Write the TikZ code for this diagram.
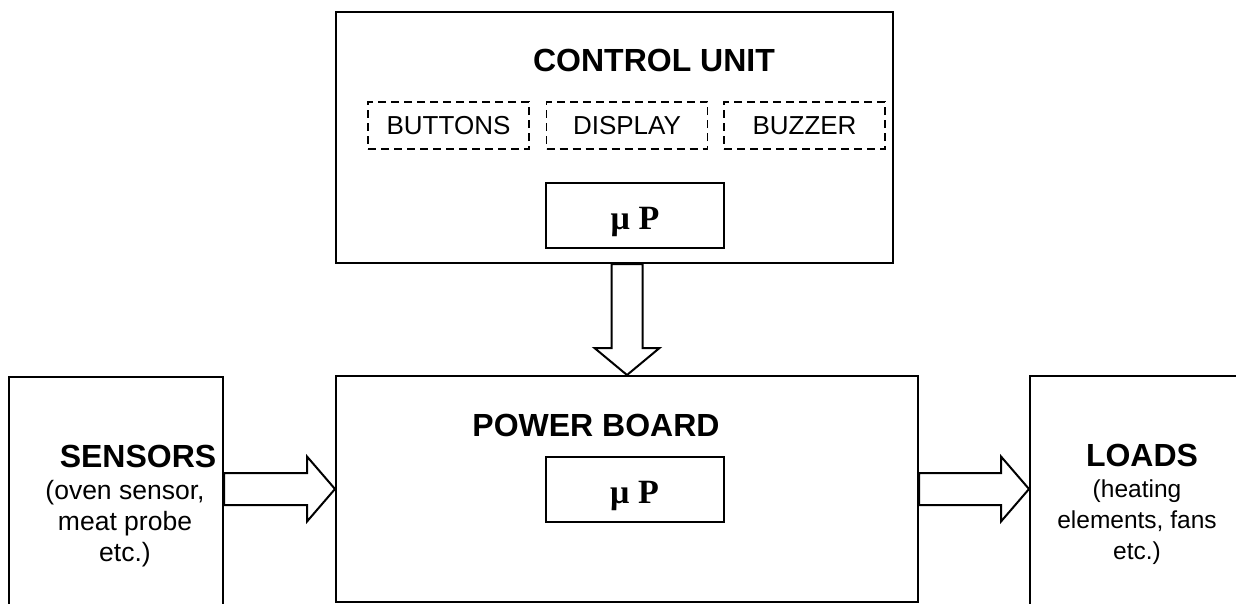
\documentclass[tikz,border=0pt]{standalone}
\usepackage{fontspec}
\setmainfont{Liberation Sans}
\newfontfamily\serifbf{Liberation Serif}
\usetikzlibrary{calc}

\tikzset{
  box/.style={draw, line width=2pt, inner sep=0pt},
  dbox/.style={draw, dash pattern=on 8pt off 5pt, line width=1.5pt, minimum width=161pt,
    minimum height=47pt, inner sep=0pt, font=\fontsize{26}{30}\selectfont},
  head/.style={font=\fontsize{32}{36}\selectfont\bfseries},
  txt/.style={align=center, font=\fontsize{26.5}{31}\selectfont},
  mup/.style={box, minimum width=178pt, minimum height=65pt, text height=28pt, text depth=0pt,
    font=\fontsize{34}{38}\selectfont\serifbf\bfseries},
  blk/.style={draw, line width=2pt, line join=miter},
}

\begin{document}
\begin{tikzpicture}[x=1pt, y=-1pt]
    \useasboundingbox (0,0) rectangle (1236,603);
    \clip (0,0) rectangle (1236,603);
    % blocks
    \node[box, minimum width=557pt, minimum height=251pt] (cu) at (614.5,137.5) {};
    \node[box, minimum width=582pt, minimum height=226pt] (pb) at (627,489) {};
    \node[box, minimum width=214pt, minimum height=283pt] (sens) at (116,518.5) {};
    \node[box, minimum width=224pt, minimum height=284pt] (ld) at (1142,518) {};
    \node[head] (cutitle) at (654,60) {CONTROL UNIT};
    \node[dbox] (btn) at (448.5,125.5) {BUTTONS};
    \node[dbox] (dsp) at (627,125.5) {DISPLAY};
    \node[dbox] (bzr) at (804.5,125.5) {BUZZER};
    \node[mup] (mpA) at (635,215) {μ P};
    \node[head] (pbtitle) at (596,425) {POWER BOARD};
    \node[mup] (mpB) at (634.5,489.5) {μ P};
    \node[head] (senstitle) at (138,456) {SENSORS};
    \node[txt] (senstext) at (125,524) {(oven sensor,\\meat probe\\etc.)};
    \node[head] (ldtitle) at (1142,455) {LOADS};
    \node[txt, font=\fontsize{24.5}{31}\selectfont] (ldtext) at (1137,522) {(heating\\elements, fans\\etc.)};
    % block arrows
    \draw[blk] (pb.north) -- ($(pb.north)+(32.5,-27)$) -- ($(pb.north)+(15.5,-27)$)
        -- ($(pb.north |- cu.south)+(15.5,0)$) -- ($(pb.north |- cu.south)+(-15.5,0)$)
        -- ($(pb.north)+(-15.5,-27)$) -- ($(pb.north)+(-32.5,-27)$) -- cycle;
    \draw[blk] (pb.west) -- ($(pb.west)+(-28,32.5)$) -- ($(pb.west)+(-28,16)$)
        -- ($(sens.east |- pb.west)+(0,16)$) -- ($(sens.east |- pb.west)+(0,-16)$)
        -- ($(pb.west)+(-28,-16)$) -- ($(pb.west)+(-28,-32.5)$) -- cycle;
    \draw[blk] (ld.west |- pb.east) -- ($(ld.west |- pb.east)+(-28,32.5)$) -- ($(ld.west |- pb.east)+(-28,16)$)
        -- ($(pb.east)+(0,16)$) -- ($(pb.east)+(0,-16)$)
        -- ($(ld.west |- pb.east)+(-28,-16)$) -- ($(ld.west |- pb.east)+(-28,-32.5)$) -- cycle;
\end{tikzpicture}
\end{document}
